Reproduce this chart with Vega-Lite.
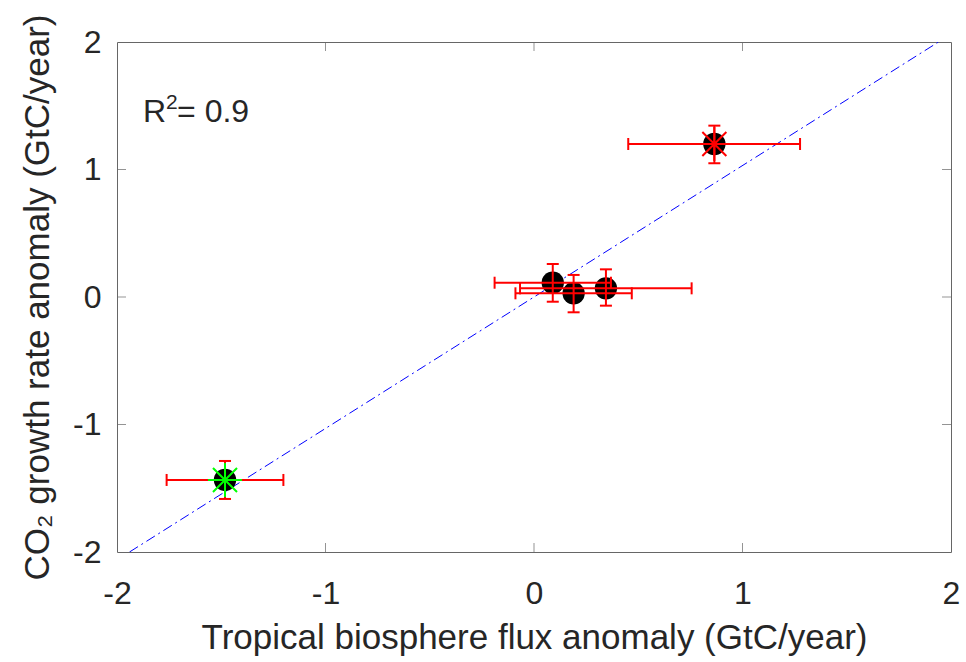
{
  "$schema": "https://vega.github.io/schema/vega-lite/v6.json",
  "autosize": "none",
  "width": 834,
  "height": 510,
  "padding": {"left": 117, "top": 42, "right": 15, "bottom": 110},
  "background": "white",
  "config": {
    "view": {"stroke": "#666666", "strokeWidth": 1},
    "axis": {
      "domain": false, "ticks": false, "grid": false,
      "labelFont": "Liberation Sans", "titleFont": "Liberation Sans",
      "labelColor": "#262626", "titleColor": "#262626",
      "labelFontSize": 32, "titleFontSize": 35, "titleFontWeight": "normal",
      "labelFlush": false, "labelOverlap": false, "labelBound": false
    },
    "axisX": {"labelPadding": 26, "titlePadding": 11},
    "axisY": {"labelPadding": 16, "titlePadding": 17}
  },
  "datasets": {
    "points": [
      {"event": "A", "group": "Other", "x": 0.09, "y": 0.112, "xlo": -0.189, "xhi": 0.369, "ylo": -0.037, "yhi": 0.259},
      {"event": "B", "group": "Other", "x": 0.19, "y": 0.029, "xlo": -0.089, "xhi": 0.469, "ylo": -0.120, "yhi": 0.173},
      {"event": "C", "group": "Other", "x": 0.345, "y": 0.068, "xlo": -0.067, "xhi": 0.756, "ylo": -0.068, "yhi": 0.217},
      {"event": "D", "group": "El Niño", "x": 0.865, "y": 1.2, "xlo": 0.452, "xhi": 1.276, "ylo": 1.049, "yhi": 1.344},
      {"event": "E", "group": "La Niña", "x": -1.482, "y": -1.435, "xlo": -1.762, "xhi": -1.202, "ylo": -1.584, "yhi": -1.286}
    ],
    "fit": [
      {"x": -1.94, "y": -2},
      {"x": 1.94, "y": 2}
    ],
    "ticks": [{"v": -1}, {"v": 0}, {"v": 1}],
    "note": [{"base": "R", "sup": "2", "rest": "= 0.9", "x": -1.875, "y": 1.373}]
  },
  "layer": [
    {
      "data": {"name": "fit"},
      "mark": {"type": "line", "color": "#0000ff", "strokeWidth": 1, "strokeDash": [10, 4, 2, 4], "clip": true},
      "encoding": {
        "x": {"field": "x", "type": "quantitative", "scale": {"domain": [-2, 2], "nice": false, "zero": false},
              "axis": {"values": [-2, -1, 0, 1, 2], "labelExpr": "datum.value + ''"}, "title": "Tropical biosphere flux anomaly (GtC/year)"},
        "y": {"field": "y", "type": "quantitative", "scale": {"domain": [-2, 2], "nice": false, "zero": false},
              "axis": {"values": [-2, -1, 0, 1, 2], "labelExpr": "datum.value + ''"}, "title": "CO₂ growth rate anomaly (GtC/year)"}
      }
    },
    {
      "data": {"name": "ticks"},
      "mark": {"type": "tick", "orient": "vertical", "size": 18, "thickness": 1, "color": "#666666", "clip": true},
      "encoding": {
        "x": {"field": "v", "type": "quantitative", "title": "Tropical biosphere flux anomaly (GtC/year)"},
        "y": {"datum": -2, "type": "quantitative", "title": "CO₂ growth rate anomaly (GtC/year)"}
      }
    },
    {
      "data": {"name": "ticks"},
      "mark": {"type": "tick", "orient": "vertical", "size": 18, "thickness": 1, "color": "#666666", "clip": true},
      "encoding": {
        "x": {"field": "v", "type": "quantitative", "title": "Tropical biosphere flux anomaly (GtC/year)"},
        "y": {"datum": 2, "type": "quantitative", "title": "CO₂ growth rate anomaly (GtC/year)"}
      }
    },
    {
      "data": {"name": "ticks"},
      "mark": {"type": "tick", "orient": "horizontal", "size": 18, "thickness": 1, "color": "#666666", "clip": true},
      "encoding": {
        "y": {"field": "v", "type": "quantitative", "title": "CO₂ growth rate anomaly (GtC/year)"},
        "x": {"datum": -2, "type": "quantitative", "title": "Tropical biosphere flux anomaly (GtC/year)"}
      }
    },
    {
      "data": {"name": "ticks"},
      "mark": {"type": "tick", "orient": "horizontal", "size": 18, "thickness": 1, "color": "#666666", "clip": true},
      "encoding": {
        "y": {"field": "v", "type": "quantitative", "title": "CO₂ growth rate anomaly (GtC/year)"},
        "x": {"datum": 2, "type": "quantitative", "title": "Tropical biosphere flux anomaly (GtC/year)"}
      }
    },
    {
      "data": {"name": "points"},
      "mark": {"type": "circle", "size": 500, "color": "#000000", "opacity": 1},
      "encoding": {
        "x": {"field": "x", "type": "quantitative", "title": "Tropical biosphere flux anomaly (GtC/year)"},
        "y": {"field": "y", "type": "quantitative", "title": "CO₂ growth rate anomaly (GtC/year)"}
      }
    },
    {
      "data": {"name": "points"},
      "mark": {"type": "rule", "color": "#ff0000", "strokeWidth": 2},
      "encoding": {
        "x": {"field": "xlo", "type": "quantitative", "title": "Tropical biosphere flux anomaly (GtC/year)"},
        "x2": {"field": "xhi"},
        "y": {"field": "y", "type": "quantitative", "title": "CO₂ growth rate anomaly (GtC/year)"}
      }
    },
    {
      "data": {"name": "points"},
      "mark": {"type": "rule", "color": "#ff0000", "strokeWidth": 2},
      "encoding": {
        "x": {"field": "x", "type": "quantitative", "title": "Tropical biosphere flux anomaly (GtC/year)"},
        "y": {"field": "ylo", "type": "quantitative", "title": "CO₂ growth rate anomaly (GtC/year)"},
        "y2": {"field": "yhi"}
      }
    },
    {
      "data": {"name": "points"},
      "mark": {"type": "tick", "orient": "vertical", "size": 12, "thickness": 2, "color": "#ff0000", "opacity": 1},
      "encoding": {
        "x": {"field": "xlo", "type": "quantitative", "title": "Tropical biosphere flux anomaly (GtC/year)"},
        "y": {"field": "y", "type": "quantitative", "title": "CO₂ growth rate anomaly (GtC/year)"}
      }
    },
    {
      "data": {"name": "points"},
      "mark": {"type": "tick", "orient": "vertical", "size": 12, "thickness": 2, "color": "#ff0000", "opacity": 1},
      "encoding": {
        "x": {"field": "xhi", "type": "quantitative", "title": "Tropical biosphere flux anomaly (GtC/year)"},
        "y": {"field": "y", "type": "quantitative", "title": "CO₂ growth rate anomaly (GtC/year)"}
      }
    },
    {
      "data": {"name": "points"},
      "mark": {"type": "tick", "orient": "horizontal", "size": 12, "thickness": 2, "color": "#ff0000", "opacity": 1},
      "encoding": {
        "x": {"field": "x", "type": "quantitative", "title": "Tropical biosphere flux anomaly (GtC/year)"},
        "y": {"field": "ylo", "type": "quantitative", "title": "CO₂ growth rate anomaly (GtC/year)"}
      }
    },
    {
      "data": {"name": "points"},
      "mark": {"type": "tick", "orient": "horizontal", "size": 12, "thickness": 2, "color": "#ff0000", "opacity": 1},
      "encoding": {
        "x": {"field": "x", "type": "quantitative", "title": "Tropical biosphere flux anomaly (GtC/year)"},
        "y": {"field": "yhi", "type": "quantitative", "title": "CO₂ growth rate anomaly (GtC/year)"}
      }
    },
    {
      "data": {"name": "points"},
      "transform": [{"filter": "datum.group !== 'Other'"}],
      "mark": {"type": "point", "shape": "M-1,0L1,0M0,-1L0,1M-0.707,-0.707L0.707,0.707M-0.707,0.707L0.707,-0.707", "size": 1156, "filled": false, "strokeWidth": 2, "opacity": 1},
      "encoding": {
        "x": {"field": "x", "type": "quantitative", "title": "Tropical biosphere flux anomaly (GtC/year)"},
        "y": {"field": "y", "type": "quantitative", "title": "CO₂ growth rate anomaly (GtC/year)"},
        "color": {"field": "group", "type": "nominal", "scale": {"domain": ["El Niño", "La Niña"], "range": ["#ff0000", "#00ff00"]}, "legend": null}
      }
    },
    {
      "data": {"name": "note"},
      "mark": {"type": "text", "align": "left", "baseline": "alphabetic", "font": "Liberation Sans", "fontSize": 32, "color": "#262626"},
      "encoding": {
        "x": {"field": "x", "type": "quantitative", "title": "Tropical biosphere flux anomaly (GtC/year)"},
        "y": {"field": "y", "type": "quantitative", "title": "CO₂ growth rate anomaly (GtC/year)"},
        "text": {"field": "base"}
      }
    },
    {
      "data": {"name": "note"},
      "mark": {"type": "text", "align": "left", "baseline": "alphabetic", "font": "Liberation Sans", "fontSize": 21, "color": "#262626", "dx": 23, "dy": -13},
      "encoding": {
        "x": {"field": "x", "type": "quantitative", "title": "Tropical biosphere flux anomaly (GtC/year)"},
        "y": {"field": "y", "type": "quantitative", "title": "CO₂ growth rate anomaly (GtC/year)"},
        "text": {"field": "sup"}
      }
    },
    {
      "data": {"name": "note"},
      "mark": {"type": "text", "align": "left", "baseline": "alphabetic", "font": "Liberation Sans", "fontSize": 32, "color": "#262626", "dx": 34},
      "encoding": {
        "x": {"field": "x", "type": "quantitative", "title": "Tropical biosphere flux anomaly (GtC/year)"},
        "y": {"field": "y", "type": "quantitative", "title": "CO₂ growth rate anomaly (GtC/year)"},
        "text": {"field": "rest"}
      }
    }
  ]
}
